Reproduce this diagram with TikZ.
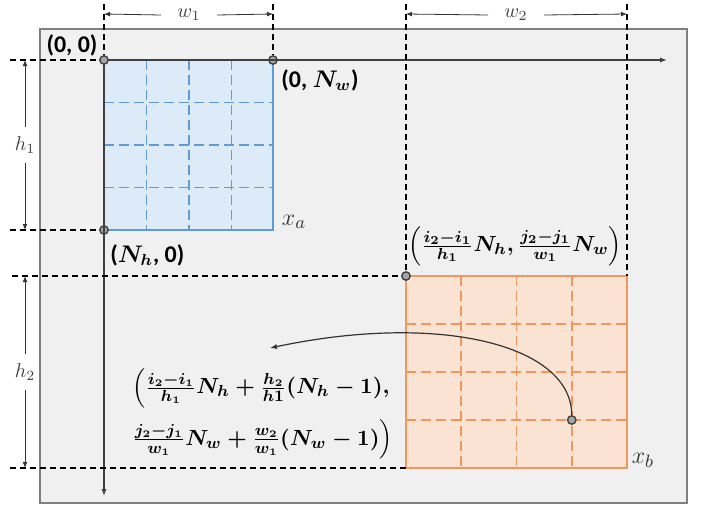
\documentclass[tikz,border=0pt]{standalone}
\usepackage{fontspec}
\setsansfont{Carlito}
\usepackage{amsmath}
\usetikzlibrary{arrows.meta}

\definecolor{panel}{HTML}{F0F0F0}
\definecolor{panelline}{HTML}{7F7F7F}
\definecolor{bluefill}{HTML}{DDEAF7}
\definecolor{blueline}{HTML}{5F9BD6}
\definecolor{orangefill}{HTML}{FBE3D3}
\definecolor{orangeline}{HTML}{F2975C}

\tikzset{
  pt/.style={circle, draw=black!75, fill=black!35, line width=0.7pt, inner sep=0pt, minimum size=4.2pt},
  guide/.style={line width=0.6pt, dash pattern=on 3pt off 2pt},
  dimline/.style={line width=0.4pt, black!80, -{Latex[length=3pt,width=2.4pt]}},
  axis/.style={black!75, line width=0.7pt, -{Latex[length=3.5pt,width=2.6pt]}},
  gridline/.style={line width=0.8pt, dash pattern=on 5pt off 2.5pt},
  coordlabel/.style={font=\boldmath\sffamily\bfseries\fontsize{12}{14}\selectfont, inner sep=1pt},
  dimlabel/.style={font=\fontsize{10}{12}\selectfont, text=black!75, inner sep=1pt},
  maplabel/.style={font=\fontsize{13}{15}\selectfont, text=black!80, inner sep=1pt}
}

\begin{document}
\begin{tikzpicture}[x=0.5pt, y=-0.5pt]
    \useasboundingbox (0,0) rectangle (703,520);
    \draw[panelline, fill=panel, line width=1.1pt] (40,29) rectangle (687,503);

    \fill[bluefill] (104,60) rectangle (273,230);
    \foreach \gx in {146.5,189,231.5}
        \draw[blueline, gridline] (\gx,60) -- (\gx,230);
    \foreach \gy in {102.5,145,187.5}
        \draw[blueline, gridline] (104,\gy) -- (273,\gy);
    \draw[blueline, line width=1pt] (104,60) rectangle (273,230);

    \fill[orangefill] (406,276) rectangle (627,468);
    \foreach \gx in {461.25,516.5,571.75}
        \draw[orangeline, gridline] (\gx,276) -- (\gx,468);
    \foreach \gy in {324,372,420}
        \draw[orangeline, gridline] (406,\gy) -- (627,\gy);
    \draw[orangeline, line width=1pt] (406,276) rectangle (627,468);

    \node[pt] (o) at (104,60) {};
    \node[pt] (nw) at (273,60) {};
    \node[pt] (nh) at (104,230) {};
    \node[pt] (pb) at (406,276) {};
    \coordinate (pbr) at (627,276);
    \coordinate (pbl) at (406,468);

    \coordinate (xend) at (667,60);
    \coordinate (yend) at (104,496);
    \draw[axis] (o) -- (xend);
    \draw[axis] (o) -- (yend);

    \coordinate (top1) at (104,4);
    \coordinate (top2) at (273,4);
    \coordinate (top3) at (406,4);
    \coordinate (top4) at (627,4);
    \coordinate (lft1) at (10,60);
    \coordinate (lft2) at (10,230);
    \coordinate (lft3) at (12,276);
    \coordinate (lft4) at (10,468);
    \draw[guide] (top1) -- (o);
    \draw[guide] (top2) -- (nw);
    \draw[guide] (top3) -- (pb);
    \draw[guide] (top4) -- (pbr);
    \draw[guide] (lft1) -- (o);
    \draw[guide] (lft2) -- (nh);
    \draw[guide] (lft3) -- (pb);
    \draw[guide] (lft4) -- (pbl);

    \node[dimlabel] (w1) at (189,15) {$w_1$};
    \node[dimlabel] (w2) at (516,15) {$w_2$};
    \node[dimlabel] (h1) at (25,145) {$h_1$};
    \node[dimlabel] (h2) at (25,372) {$h_2$};
    \coordinate (w1a) at (104,14);
    \coordinate (w1b) at (273,14);
    \coordinate (w2a) at (406,14);
    \coordinate (w2b) at (627,14);
    \coordinate (h1a) at (25,60);
    \coordinate (h1b) at (25,230);
    \coordinate (h2a) at (25,276);
    \coordinate (h2b) at (25,468);
    \draw[dimline] (w1) ++(-28,0) -- (w1a);
    \draw[dimline] (w1) ++(28,0) -- (w1b);
    \draw[dimline] (w2) ++(-28,0) -- (w2a);
    \draw[dimline] (w2) ++(28,0) -- (w2b);
    \draw[dimline] (h1) ++(0,-18) -- (h1a);
    \draw[dimline] (h1) ++(0,18) -- (h1b);
    \draw[dimline] (h2) ++(0,-18) -- (h2a);
    \draw[dimline] (h2) ++(0,18) -- (h2b);

    \node[pt] (q) at (571.75,420) {};
    \coordinate (tip) at (270,348);
    \draw[black!80, line width=0.6pt, -{Latex[length=3.5pt,width=2.6pt]}] (q) .. controls (571.75,345) and (440,312) .. (tip);

    \node[coordlabel] (lo) at (72,45) {(0, 0)};
    \node[coordlabel, anchor=west] (lnw) at (279,80) {(0, $N_w$)};
    \node[coordlabel, anchor=west] (lnh) at (108,255) {($N_h$, 0)};
    \node[maplabel] (xa) at (294,222) {$x_a$};
    \node[maplabel] (xb) at (643,460) {$x_b$};
    \node[coordlabel, font=\boldmath\fontsize{11.2}{13}\selectfont] (lpb) at (515,246)
        {$\left(\frac{i_2-i_1}{h_1}N_h, \frac{j_2-j_1}{w_1}N_w\right)$};
    \node[coordlabel, font=\boldmath\fontsize{11}{13}\selectfont, align=left, anchor=north west] (lq) at (130,366)
        {$\Bigl(\frac{i_2-i_1}{h_1}N_h+\frac{h_2}{h1}(N_h-1),$\\[5pt]
         $\frac{j_2-j_1}{w_1}N_w+\frac{w_2}{w_1}(N_w-1)\Bigr)$};
\end{tikzpicture}
\end{document}
